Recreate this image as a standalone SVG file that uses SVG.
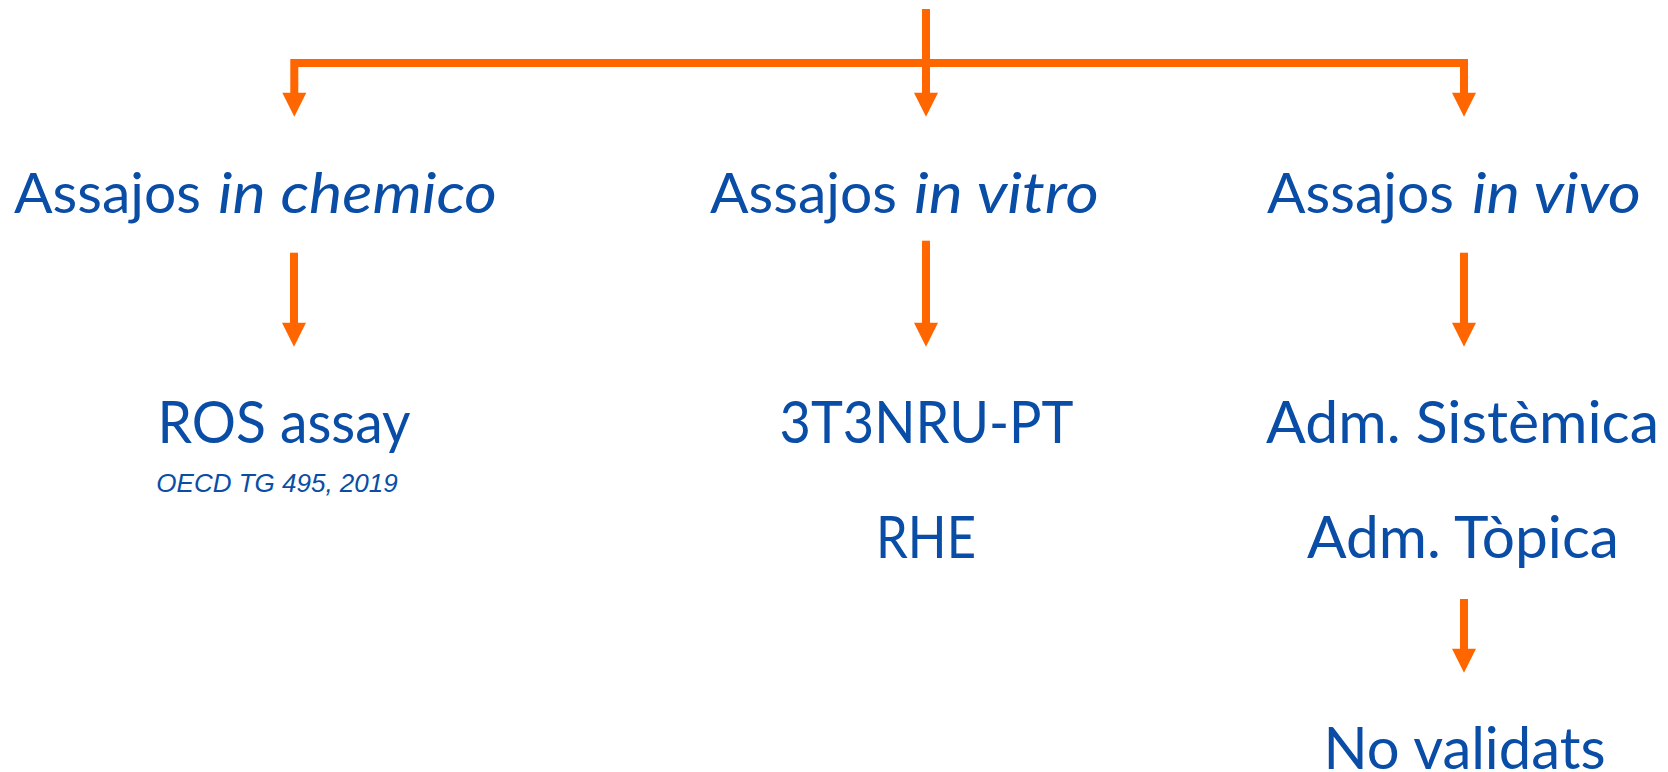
<svg xmlns="http://www.w3.org/2000/svg" width="1668" height="772" viewBox="0 0 1668 772">
<defs>
<style>
.t{font-family:Lato,"Open Sans","Liberation Sans",sans-serif;fill:#0A4DA6}
.h{font-size:57px}
.b{font-size:58px;text-anchor:middle}
.i{font-style:italic}
.ref{font-family:"Liberation Sans",Arial,sans-serif;font-style:italic;font-size:26px;fill:#0A4DA6;text-anchor:middle}
.ln{stroke:#FF6600;stroke-width:8;fill:none;stroke-linejoin:miter;stroke-linecap:butt}
.hd{fill:#FF6600}
</style>
<polygon id="ah" points="-12,0 12,0 0,24"/>
</defs>
<rect width="1668" height="772" fill="#FFFFFF"/>
<g id="connectors">
<path class="ln" d="M926,9 V93"/>
<path class="ln" d="M294.3,93 V63 H1464 V93"/>
<use href="#ah" class="hd" x="294.3" y="92.7"/>
<use href="#ah" class="hd" x="926" y="92.7"/>
<use href="#ah" class="hd" x="1464" y="92.7"/>
<path class="ln" d="M294,252.7 V323"/>
<use href="#ah" class="hd" x="294" y="322.7"/>
<path class="ln" d="M926,240.7 V323"/>
<use href="#ah" class="hd" x="926" y="322.7"/>
<path class="ln" d="M1464,252.7 V323"/>
<use href="#ah" class="hd" x="1464" y="322.7"/>
<path class="ln" d="M1464,599 V649"/>
<use href="#ah" class="hd" x="1464" y="648.7"/>
</g>
<g id="node-chemico"><text class="t h" x="14" y="213">Assajos</text><text class="t h i" x="218" y="213" textLength="279" lengthAdjust="spacingAndGlyphs">in chemico</text></g>
<g id="node-vitro"><text class="t h" x="710" y="213">Assajos</text><text class="t h i" x="914" y="213" textLength="185" lengthAdjust="spacingAndGlyphs">in vitro</text></g>
<g id="node-vivo"><text class="t h" x="1267" y="213">Assajos</text><text class="t h i" x="1472" y="213" textLength="169" lengthAdjust="spacingAndGlyphs">in vivo</text></g>
<g id="node-ros"><text class="t b" x="284" y="443" textLength="253" lengthAdjust="spacingAndGlyphs">ROS assay</text><text class="ref" x="277" y="491.5">OECD TG 495, 2019</text></g>
<g id="node-3t3"><text class="t b" x="926.5" y="443" textLength="294" lengthAdjust="spacingAndGlyphs">3T3NRU-PT</text></g>
<g id="node-rhe"><text class="t b" x="926" y="558" textLength="100" lengthAdjust="spacingAndGlyphs">RHE</text></g>
<g id="node-sistemica"><text class="t b" x="1462.5" y="443" textLength="393" lengthAdjust="spacingAndGlyphs">Adm. Sistèmica</text></g>
<g id="node-topica"><text class="t b" x="1463" y="558" textLength="312" lengthAdjust="spacingAndGlyphs">Adm. Tòpica</text></g>
<g id="node-novalidats"><text class="t b" x="1464.5" y="769" textLength="282" lengthAdjust="spacingAndGlyphs">No validats</text></g>
</svg>
